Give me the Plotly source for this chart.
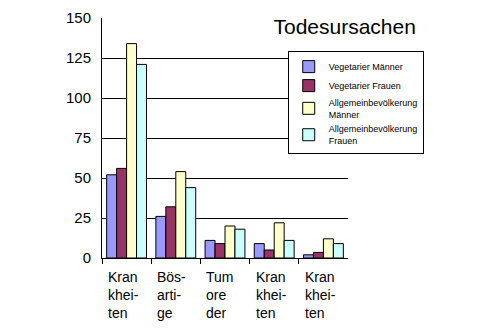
import plotly.graph_objects as go

categories = ["Kran<br>khei-<br>ten", "Bös-<br>arti-<br>ge", "Tum<br>ore<br>der", "Kran<br>khei-<br>ten", "Kran<br>khei-<br>ten"]
series_names = ["Vegetarier Männer", "Vegetarier Frauen", "Allgemeinbevölkerung<br>Männer", "Allgemeinbevölkerung<br>Frauen"]
veg_maenner = [52, 26, 11, 9, 2]
veg_frauen = [56, 32, 9, 5, 3.5]
allg_maenner = [134, 54, 20, 22, 12]
allg_frauen = [121, 44, 18, 11, 9]
colors = ["#9999FF", "#993366", "#FFFFCC", "#CCFFFF"]
y_ticks = [0, 25, 50, 75, 100, 125, 150]

FONT = "Arial, Liberation Sans, sans-serif"
xpos = list(range(len(categories)))

fig = go.Figure()
for name, vals, col in zip(series_names, [veg_maenner, veg_frauen, allg_maenner, allg_frauen], colors):
    fig.add_trace(go.Bar(x=xpos, y=vals, name=name,
                         marker=dict(color=col, line=dict(color="black", width=1))))

for i, lab in enumerate(categories):
    fig.add_annotation(x=i - 0.5, y=0, xref="x", yref="y", text=lab, showarrow=False,
                       xanchor="left", yanchor="top", align="left", xshift=4, yshift=-9,
                       font=dict(family=FONT, size=14, color="black"))

fig.update_layout(
    width=488, height=329,
    margin=dict(l=102, r=140, t=9, b=71),
    paper_bgcolor="white", plot_bgcolor="white",
    barmode="group", bargap=0.19, bargroupgap=0,
    font=dict(family=FONT, color="black"),
    title=dict(text="Todesursachen", x=0.697, xref="paper", xanchor="left",
               y=1 - 26.5 / 329, yref="container", yanchor="middle",
               font=dict(family=FONT, size=21, color="black")),
    legend=dict(x=0.755, y=0.862, xanchor="left", yanchor="top",
                bgcolor="white", bordercolor="black", borderwidth=1,
                font=dict(family=FONT, size=9, color="black"),
                itemwidth=30, tracegroupgap=0),
    showlegend=True,
)
fig.update_xaxes(range=[-0.5, 4.5], tickvals=[-0.5, 0.5, 1.5, 2.5, 3.5], ticktext=["", "", "", "", ""],
                 ticks="outside", ticklen=5, tickcolor="black", showgrid=False,
                 showline=True, linecolor="black", linewidth=1, zeroline=False)
fig.update_yaxes(range=[0, 150], tickvals=y_ticks, ticks="", showgrid=True, gridcolor="black",
                 gridwidth=1, showline=True, linecolor="black", linewidth=1, zeroline=False,
                 tickfont=dict(family=FONT, size=15, color="black"), ticklabelstandoff=7)

fig.write_html("out.html")
